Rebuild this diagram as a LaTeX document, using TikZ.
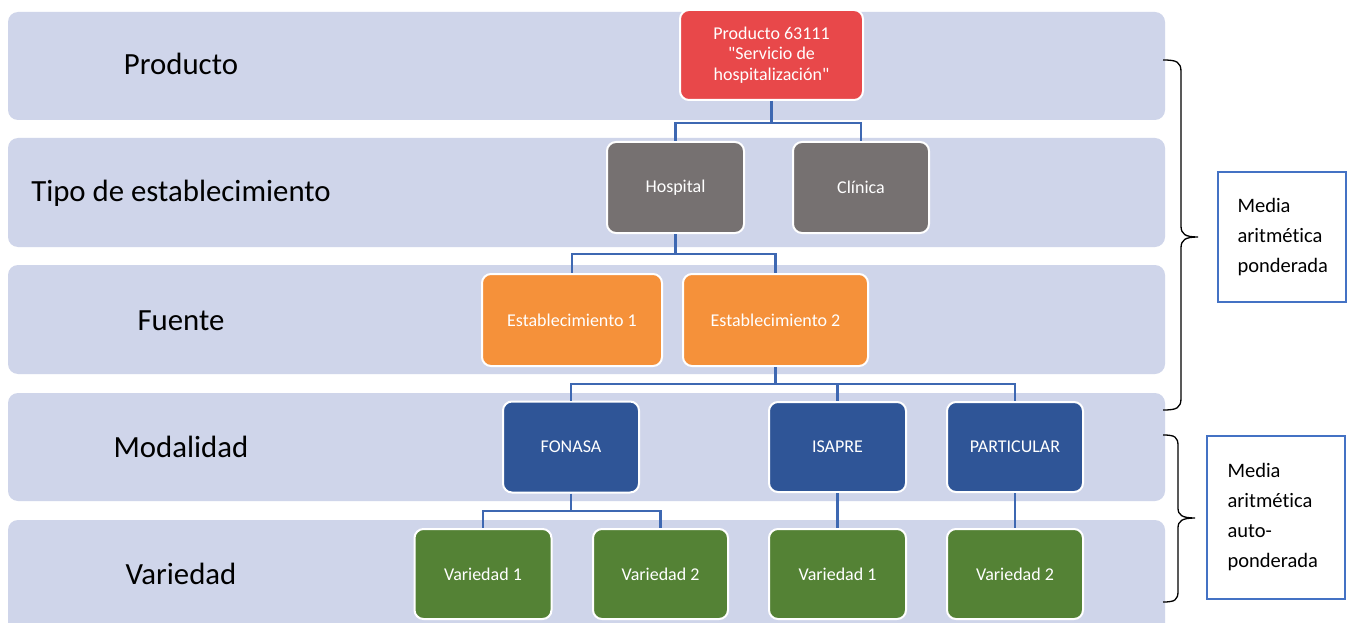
\documentclass[tikz,border=0pt]{standalone}
\usepackage{fontspec}
\setmainfont{Carlito}[Ligatures={TeXOff,NoCommon}]
\definecolor{bandc}{RGB}{207,213,234}
\definecolor{redc}{RGB}{232,72,74}
\definecolor{grayc}{RGB}{118,113,113}
\definecolor{orangec}{RGB}{245,145,58}
\definecolor{bluec}{RGB}{47,85,151}
\definecolor{greenc}{RGB}{84,130,53}
\definecolor{connc}{RGB}{62,104,178}
\definecolor{notec}{RGB}{68,114,196}
\tikzset{
  bandbox/.style={fill=bandc, rounded corners=10pt},
  box/.style={rounded corners=9pt, draw=white, line width=2pt, text=white,
    font=\fontsize{18}{20.5}\selectfont, align=center, inner sep=0pt},
  redbox/.style={box, fill=redc},
  graybox/.style={box, fill=grayc},
  orangebox/.style={box, fill=orangec},
  bluebox/.style={box, fill=bluec},
  greenbox/.style={box, fill=greenc},
  conn/.style={draw=connc, line width=2.5pt},
  levellabel/.style={anchor=base, font=\fontsize{30.8}{36}\selectfont, inner sep=0pt},
  notebox/.style={draw=notec, line width=2pt, fill=white, align=left,
    font=\fontsize{20.5}{30}\selectfont, inner ysep=0pt},
  bracec/.style={draw=black, line width=1.3pt},
}
\begin{document}
\begin{tikzpicture}[x=1pt,y=-1pt]
\useasboundingbox (0,0) rectangle (1347,623);
\fill[white] (0,0) rectangle (1347,623);
% bands
\path[bandbox] (8,12) rectangle (1165,120);
\path[bandbox] (8,138) rectangle (1165,247);
\path[bandbox] (8,265) rectangle (1165,374);
\path[bandbox] (8,393) rectangle (1165,501);
\path[bandbox] (8,520) rectangle (1165,640);
% level labels
\node[levellabel] (l1) at (181,75) {Producto};
\node[levellabel] (l2) at (181,201) {Tipo de establecimiento};
\node[levellabel] (l3) at (181,330) {Fuente};
\node[levellabel] (l4) at (181,457) {Modalidad};
\node[levellabel] (l5) at (181,584) {Variedad};
% bus coordinates
\coordinate (y1) at (0,123);
\coordinate (y2) at (0,254);
\coordinate (y3) at (0,384);
\coordinate (y4) at (0,511);
% nodes
\node[redbox, minimum width=183, minimum height=90] (prod) at (771.5,55) {Producto 63111\\"Servicio de\\hospitalización"};
\node[graybox, minimum width=137, minimum height=91] (hosp) at (675.5,187.5) {Hospital};
\node[graybox, minimum width=136, minimum height=91] (clin) at (861,187.5) {Clínica};
\node[orangebox, minimum width=180, minimum height=92] (est1) at (572,320) {Establecimiento 1};
\node[orangebox, minimum width=185, minimum height=92] (est2) at (775.5,320) {Establecimiento 2};
\node[bluebox, minimum width=136, minimum height=91] (fon) at (571,447) {FONASA};
\node[bluebox, minimum width=137, minimum height=90] (isa) at (837.5,447) {ISAPRE};
\node[bluebox, minimum width=136, minimum height=90] (par) at (1015,447) {PARTICULAR};
\node[greenbox, minimum width=137, minimum height=90] (v1) at (483,574) {Variedad 1};
\node[greenbox, minimum width=135, minimum height=90] (v2) at (660.5,574) {Variedad 2};
\node[greenbox, minimum width=137, minimum height=90] (v3) at (837.5,574) {Variedad 1};
\node[greenbox, minimum width=136, minimum height=90] (v4) at (1015,574) {Variedad 2};
% connectors
\begin{scope}[line join=miter]
\draw[conn] (prod.south) -- (prod.south |- y1) -| (hosp.north);
\draw[conn] (prod.south |- y1) -| (clin.north);
\draw[conn] (hosp.south) -- (hosp.south |- y2) -| (est1.north);
\draw[conn] (hosp.south |- y2) -| (est2.north);
\draw[conn] (est2.south) -- (est2.south |- y3) -| (fon.north);
\draw[conn] (est2.south |- y3) -| (isa.north);
\draw[conn] (est2.south |- y3) -| (par.north);
\draw[conn] (fon.south) -- (fon.south |- y4) -| (v1.north);
\draw[conn] (fon.south |- y4) -| (v2.north);
\draw[conn] (isa.south) -- (v3.north);
\draw[conn] (par.south) -- (v4.north);
\end{scope}
% braces
\draw[bracec] (1163,60) .. controls (1177,60) and (1181,62) .. (1181,72)
  -- (1181,226) .. controls (1181,234) and (1185,237) .. (1198,237)
  .. controls (1185,237) and (1181,240) .. (1181,248)
  -- (1181,398) .. controls (1181,408) and (1177,410) .. (1163,410);
\draw[bracec] (1163,435) .. controls (1175,435) and (1178,437) .. (1178,446)
  -- (1178,508) .. controls (1178,515) and (1182,518) .. (1195,518)
  .. controls (1182,518) and (1178,521) .. (1178,528)
  -- (1178,591) .. controls (1178,600) and (1175,602) .. (1163,602);
% notes
\node[notebox, text width=88, inner xsep=20, minimum height=130] (n1) at (1281.5,237) {Media\\aritmética\\ponderada};
\node[notebox, text width=96, inner xsep=21, minimum height=163] (n2) at (1275.5,517.5) {Media\\aritmética\\auto-\\ponderada};
\end{tikzpicture}
\end{document}
